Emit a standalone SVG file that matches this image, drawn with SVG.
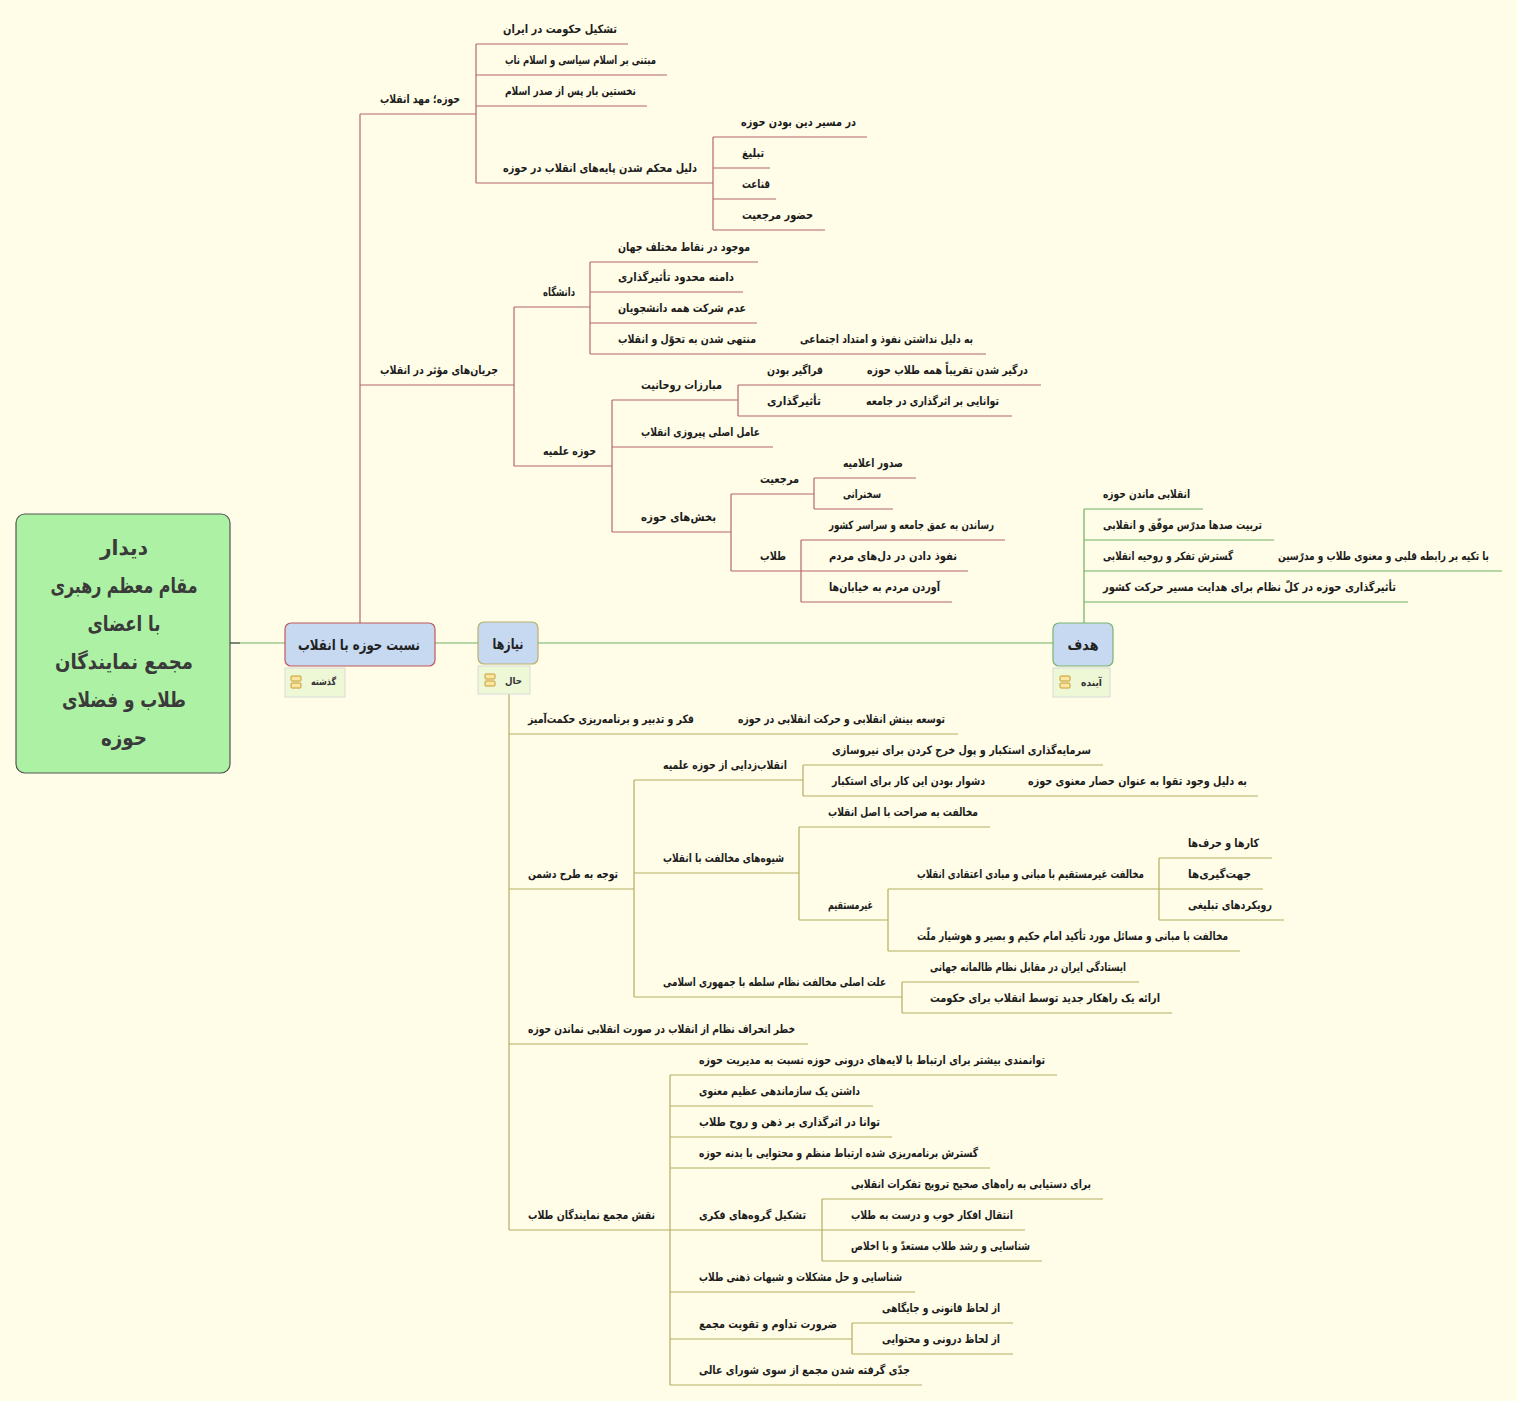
<svg xmlns="http://www.w3.org/2000/svg" width="1517" height="1401" viewBox="0 0 1517 1401">
<style>
.bg{fill:#FFFDE8}
.r{stroke:#B5676B;stroke-width:1.2;fill:none}
.o{stroke:#B5AE62;stroke-width:1.2;fill:none}
.g{stroke:#6DAF63;stroke-width:1.2;fill:none}
text{font-family:"DejaVu Sans","Noto Sans",sans-serif;font-weight:bold;fill:#1C1C1C}
.t{font-size:11.5px;text-anchor:end}
.m{font-size:15px;text-anchor:middle;fill:#222}
.c{font-size:21px;text-anchor:middle;fill:#3A3A3A}
.l{font-size:9.5px;text-anchor:end;fill:#333}
.lb{fill:#EEF7D6;stroke:#DADADA;stroke-width:1}
.ic{fill:#FBE7A1;stroke:#C99A2E;stroke-width:1}
</style>
<rect class="bg" x="0" y="0" width="1517" height="1401"/>
<g id="connectors">
<path class="g" d="M230 643H285M435 643H478M538 643H1053"/>
<path d="M230 643H240" stroke="#555" stroke-width="1.2"/>
<path class="r" d="M360 623V114M476 44V183M713 137V230M514 307V466M590 262V354M612 400V532M738 385V416M731 494V571M814 478V509M801 540V602"/>
<path class="g" d="M1084 623V509"/>
<path class="o" d="M509 694V1230M634 780V997M803 765V796M799 827V920M888 889V951M1159 858V920M902 982V1013M670 1075V1385M822 1199V1261M852 1323V1354"/>
</g>
<g id="central">
<rect x="16" y="514" width="214" height="259" rx="9" fill="#ADF1A4" stroke="#555" stroke-width="1.2"/>
<text class="c" x="124" y="555" textLength="48" lengthAdjust="spacingAndGlyphs">دیدار</text>
<text class="c" x="124" y="593" textLength="147" lengthAdjust="spacingAndGlyphs">مقام معظم رهبری</text>
<text class="c" x="124" y="631" textLength="73" lengthAdjust="spacingAndGlyphs">با اعضای</text>
<text class="c" x="124" y="669" textLength="138" lengthAdjust="spacingAndGlyphs">مجمع نمایندگان</text>
<text class="c" x="124" y="707" textLength="124" lengthAdjust="spacingAndGlyphs">طلاب و فضلای</text>
<text class="c" x="124" y="745" textLength="46" lengthAdjust="spacingAndGlyphs">حوزه</text>
</g>
<g id="topic-past">
<rect x="285" y="623" width="150" height="43" rx="6" fill="#C6D9F1" stroke="#C0585A" stroke-width="1.2"/>
<text class="m" x="359" y="650" textLength="122" lengthAdjust="spacingAndGlyphs">نسبت حوزه با انقلاب</text>
<rect class="lb" x="285" y="668" width="60" height="29"/>
<rect class="ic" x="291" y="676" width="10" height="5" rx="1"/>
<rect class="ic" x="291" y="683" width="10" height="5" rx="1"/>
<text class="l" x="336" y="685" textLength="25" lengthAdjust="spacingAndGlyphs">گذشته</text>
</g>
<g id="topic-present">
<rect x="478" y="622" width="60" height="42" rx="6" fill="#C6D9F1" stroke="#B7B06A" stroke-width="1.2"/>
<text class="m" x="508" y="649" textLength="31" lengthAdjust="spacingAndGlyphs">نیازها</text>
<rect class="lb" x="478" y="666" width="52" height="28"/>
<rect class="ic" x="485" y="674" width="10" height="5" rx="1"/>
<rect class="ic" x="485" y="681" width="10" height="5" rx="1"/>
<text class="l" x="522" y="684" textLength="17" lengthAdjust="spacingAndGlyphs">حال</text>
</g>
<g id="topic-future">
<rect x="1053" y="623" width="60" height="43" rx="6" fill="#C6D9F1" stroke="#7AB36E" stroke-width="1.2"/>
<text class="m" x="1083" y="650" textLength="31" lengthAdjust="spacingAndGlyphs">هدف</text>
<rect class="lb" x="1053" y="668" width="57" height="29"/>
<rect class="ic" x="1060" y="676" width="10" height="5" rx="1"/>
<rect class="ic" x="1060" y="683" width="10" height="5" rx="1"/>
<text class="l" x="1102" y="686" textLength="21" lengthAdjust="spacingAndGlyphs">آینده</text>
</g>
<g id="nA"><path class="r" d="M360 114H476"/><text class="t" x="460" y="103" textLength="80" lengthAdjust="spacingAndGlyphs">حوزه؛ مهد انقلاب</text></g>
<g id="nA1"><path class="r" d="M476 44H628"/><text class="t" x="617" y="33" textLength="114" lengthAdjust="spacingAndGlyphs">تشکیل حکومت در ایران</text></g>
<g id="nA2"><path class="r" d="M476 75H667"/><text class="t" x="656" y="64" textLength="151" lengthAdjust="spacingAndGlyphs">مبتنی بر اسلام سیاسی و اسلام ناب</text></g>
<g id="nA3"><path class="r" d="M476 106H647"/><text class="t" x="636" y="95" textLength="131" lengthAdjust="spacingAndGlyphs">نخستین بار پس از صدر اسلام</text></g>
<g id="nA4"><path class="r" d="M476 183H713"/><text class="t" x="697" y="172" textLength="194" lengthAdjust="spacingAndGlyphs">دلیل محکم شدن پایه‌های انقلاب در حوزه</text></g>
<g id="nA41"><path class="r" d="M713 137H867"/><text class="t" x="856" y="126" textLength="115" lengthAdjust="spacingAndGlyphs">در مسیر دین بودن حوزه</text></g>
<g id="nA42"><path class="r" d="M713 168H770"/><text class="t" x="764" y="157" textLength="22" lengthAdjust="spacingAndGlyphs">تبلیغ</text></g>
<g id="nA43"><path class="r" d="M713 199H776"/><text class="t" x="770" y="188" textLength="28" lengthAdjust="spacingAndGlyphs">قناعت</text></g>
<g id="nA44"><path class="r" d="M713 230H825"/><text class="t" x="813" y="219" textLength="71" lengthAdjust="spacingAndGlyphs">حضور مرجعیت</text></g>
<g id="nB"><path class="r" d="M360 385H514"/><text class="t" x="498" y="374" textLength="118" lengthAdjust="spacingAndGlyphs">جریان‌های مؤثر در انقلاب</text></g>
<g id="nB1"><path class="r" d="M514 307H590"/><text class="t" x="575" y="296" textLength="32" lengthAdjust="spacingAndGlyphs">دانشگاه</text></g>
<g id="nB11"><path class="r" d="M590 262H758"/><text class="t" x="750" y="251" textLength="132" lengthAdjust="spacingAndGlyphs">موجود در نقاط مختلف جهان</text></g>
<g id="nB12"><path class="r" d="M590 292H743"/><text class="t" x="734" y="281" textLength="116" lengthAdjust="spacingAndGlyphs">دامنه محدود تأثیرگذاری</text></g>
<g id="nB13"><path class="r" d="M590 323H757"/><text class="t" x="746" y="312" textLength="128" lengthAdjust="spacingAndGlyphs">عدم شرکت همه دانشجویان</text></g>
<g id="nB14"><path class="r" d="M590 354H786"/><text class="t" x="756" y="343" textLength="138" lengthAdjust="spacingAndGlyphs">منتهی شدن به تحوّل و انقلاب</text></g>
<g id="nB141"><path class="r" d="M786 354H986"/><text class="t" x="973" y="343" textLength="173" lengthAdjust="spacingAndGlyphs">به دلیل نداشتن نفوذ و امتداد اجتماعی</text></g>
<g id="nB2"><path class="r" d="M514 466H612"/><text class="t" x="596" y="455" textLength="53" lengthAdjust="spacingAndGlyphs">حوزه علمیه</text></g>
<g id="nB21"><path class="r" d="M612 400H738"/><text class="t" x="722" y="389" textLength="81" lengthAdjust="spacingAndGlyphs">مبارزات روحانیت</text></g>
<g id="nB211"><path class="r" d="M738 385H848"/><text class="t" x="823" y="374" textLength="56" lengthAdjust="spacingAndGlyphs">فراگیر بودن</text></g>
<g id="nB2111"><path class="r" d="M848 385H1041"/><text class="t" x="1028" y="374" textLength="161" lengthAdjust="spacingAndGlyphs">درگیر شدن تقریباً همه طلاب حوزه</text></g>
<g id="nB212"><path class="r" d="M738 416H848"/><text class="t" x="821" y="405" textLength="54" lengthAdjust="spacingAndGlyphs">تأثیرگذاری</text></g>
<g id="nB2121"><path class="r" d="M848 416H1012"/><text class="t" x="999" y="405" textLength="133" lengthAdjust="spacingAndGlyphs">توانایی بر اثرگذاری در جامعه</text></g>
<g id="nB22"><path class="r" d="M612 447H773"/><text class="t" x="760" y="436" textLength="119" lengthAdjust="spacingAndGlyphs">عامل اصلی پیروزی انقلاب</text></g>
<g id="nB23"><path class="r" d="M612 532H731"/><text class="t" x="716" y="521" textLength="75" lengthAdjust="spacingAndGlyphs">بخش‌های حوزه</text></g>
<g id="nB231"><path class="r" d="M731 494H814"/><text class="t" x="799" y="483" textLength="39" lengthAdjust="spacingAndGlyphs">مرجعیت</text></g>
<g id="nB2311"><path class="r" d="M814 478H916"/><text class="t" x="903" y="467" textLength="60" lengthAdjust="spacingAndGlyphs">صدور اعلامیه</text></g>
<g id="nB2312"><path class="r" d="M814 509H893"/><text class="t" x="881" y="498" textLength="38" lengthAdjust="spacingAndGlyphs">سخنرانی</text></g>
<g id="nB232"><path class="r" d="M731 571H801"/><text class="t" x="786" y="560" textLength="26" lengthAdjust="spacingAndGlyphs">طلاب</text></g>
<g id="nB2321"><path class="r" d="M801 540H1005"/><text class="t" x="994" y="529" textLength="165" lengthAdjust="spacingAndGlyphs">رساندن به عمق جامعه و سراسر کشور</text></g>
<g id="nB2322"><path class="r" d="M801 571H968"/><text class="t" x="957" y="560" textLength="128" lengthAdjust="spacingAndGlyphs">نفوذ دادن در دل‌های مردم</text></g>
<g id="nB2323"><path class="r" d="M801 602H952"/><text class="t" x="940" y="591" textLength="111" lengthAdjust="spacingAndGlyphs">آوردن مردم به خیابان‌ها</text></g>
<g id="nG1"><path class="g" d="M1084 509H1203"/><text class="t" x="1190" y="498" textLength="87" lengthAdjust="spacingAndGlyphs">انقلابی ماندن حوزه</text></g>
<g id="nG2"><path class="g" d="M1084 540H1274"/><text class="t" x="1262" y="529" textLength="159" lengthAdjust="spacingAndGlyphs">تربیت صدها مدرّس موفّق و انقلابی</text></g>
<g id="nG3"><path class="g" d="M1084 571H1255"/><text class="t" x="1233" y="560" textLength="130" lengthAdjust="spacingAndGlyphs">گسترش تفکر و روحیه انقلابی</text></g>
<g id="nG31"><path class="g" d="M1255 571H1502"/><text class="t" x="1489" y="560" textLength="211" lengthAdjust="spacingAndGlyphs">با تکیه بر رابطه قلبی و معنوی طلاب و مدرّسین</text></g>
<g id="nG4"><path class="g" d="M1084 602H1408"/><text class="t" x="1396" y="591" textLength="293" lengthAdjust="spacingAndGlyphs">تأثیرگذاری حوزه در کلّ نظام برای هدایت مسیر حرکت کشور</text></g>
<g id="nC1"><path class="o" d="M509 734H712"/><text class="t" x="694" y="723" textLength="166" lengthAdjust="spacingAndGlyphs">فکر و تدبیر و برنامه‌ریزی حکمت‌آمیز</text></g>
<g id="nC11"><path class="o" d="M712 734H958"/><text class="t" x="945" y="723" textLength="207" lengthAdjust="spacingAndGlyphs">توسعه بینش انقلابی و حرکت انقلابی در حوزه</text></g>
<g id="nC2"><path class="o" d="M509 889H634"/><text class="t" x="618" y="878" textLength="90" lengthAdjust="spacingAndGlyphs">توجه به طرح دشمن</text></g>
<g id="nC21"><path class="o" d="M634 780H803"/><text class="t" x="787" y="769" textLength="124" lengthAdjust="spacingAndGlyphs">انقلاب‌زدایی از حوزه علمیه</text></g>
<g id="nC211"><path class="o" d="M803 765H1103"/><text class="t" x="1091" y="754" textLength="259" lengthAdjust="spacingAndGlyphs">سرمایه‌گذاری استکبار و پول خرج کردن برای نیروسازی</text></g>
<g id="nC212"><path class="o" d="M803 796H1015"/><text class="t" x="985" y="785" textLength="153" lengthAdjust="spacingAndGlyphs">دشوار بودن این کار برای استکبار</text></g>
<g id="nC2121"><path class="o" d="M1015 796H1258"/><text class="t" x="1247" y="785" textLength="219" lengthAdjust="spacingAndGlyphs">به دلیل وجود تقوا به عنوان حصار معنوی حوزه</text></g>
<g id="nC22"><path class="o" d="M634 873H799"/><text class="t" x="784" y="862" textLength="121" lengthAdjust="spacingAndGlyphs">شیوه‌های مخالفت با انقلاب</text></g>
<g id="nC221"><path class="o" d="M799 827H990"/><text class="t" x="978" y="816" textLength="150" lengthAdjust="spacingAndGlyphs">مخالفت به صراحت با اصل انقلاب</text></g>
<g id="nC222"><path class="o" d="M799 920H888"/><text class="t" x="873" y="909" textLength="45" lengthAdjust="spacingAndGlyphs">غیرمستقیم</text></g>
<g id="nC2221"><path class="o" d="M888 889H1159"/><text class="t" x="1144" y="878" textLength="227" lengthAdjust="spacingAndGlyphs">مخالفت غیرمستقیم با مبانی و مبادی اعتقادی انقلاب</text></g>
<g id="nC22211"><path class="o" d="M1159 858H1272"/><text class="t" x="1259" y="847" textLength="71" lengthAdjust="spacingAndGlyphs">کارها و حرف‌ها</text></g>
<g id="nC22212"><path class="o" d="M1159 889H1263"/><text class="t" x="1251" y="878" textLength="63" lengthAdjust="spacingAndGlyphs">جهت‌گیری‌ها</text></g>
<g id="nC22213"><path class="o" d="M1159 920H1284"/><text class="t" x="1272" y="909" textLength="84" lengthAdjust="spacingAndGlyphs">رویکردهای تبلیغی</text></g>
<g id="nC2222"><path class="o" d="M888 951H1240"/><text class="t" x="1228" y="940" textLength="311" lengthAdjust="spacingAndGlyphs">مخالفت با مبانی و مسائل مورد تأکید امام حکیم و بصیر و هوشیار ملّت</text></g>
<g id="nC23"><path class="o" d="M634 997H902"/><text class="t" x="886" y="986" textLength="223" lengthAdjust="spacingAndGlyphs">علت اصلی مخالفت نظام سلطه با جمهوری اسلامی</text></g>
<g id="nC231"><path class="o" d="M902 982H1139"/><text class="t" x="1126" y="971" textLength="196" lengthAdjust="spacingAndGlyphs">ایستادگی ایران در مقابل نظام ظالمانه جهانی</text></g>
<g id="nC232"><path class="o" d="M902 1013H1172"/><text class="t" x="1160" y="1002" textLength="230" lengthAdjust="spacingAndGlyphs">ارائه یک راهکار جدید توسط انقلاب برای حکومت</text></g>
<g id="nC3"><path class="o" d="M509 1044H808"/><text class="t" x="795" y="1033" textLength="267" lengthAdjust="spacingAndGlyphs">خطر انحراف نظام از انقلاب در صورت انقلابی نماندن حوزه</text></g>
<g id="nC4"><path class="o" d="M509 1230H670"/><text class="t" x="655" y="1219" textLength="127" lengthAdjust="spacingAndGlyphs">نقش مجمع نمایندگان طلاب</text></g>
<g id="nC41"><path class="o" d="M670 1075H1057"/><text class="t" x="1045" y="1064" textLength="346" lengthAdjust="spacingAndGlyphs">توانمندی بیشتر برای ارتباط با لایه‌های درونی حوزه نسبت به مدیریت حوزه</text></g>
<g id="nC42"><path class="o" d="M670 1106H873"/><text class="t" x="860" y="1095" textLength="161" lengthAdjust="spacingAndGlyphs">داشتن یک سازماندهی عظیم معنوی</text></g>
<g id="nC43"><path class="o" d="M670 1137H892"/><text class="t" x="880" y="1126" textLength="181" lengthAdjust="spacingAndGlyphs">توانا در اثرگذاری بر ذهن و روح طلاب</text></g>
<g id="nC44"><path class="o" d="M670 1168H990"/><text class="t" x="978" y="1157" textLength="279" lengthAdjust="spacingAndGlyphs">گسترش برنامه‌ریزی شده ارتباط منظم و محتوایی با بدنه حوزه</text></g>
<g id="nC45"><path class="o" d="M670 1230H822"/><text class="t" x="806" y="1219" textLength="107" lengthAdjust="spacingAndGlyphs">تشکیل گروه‌های فکری</text></g>
<g id="nC451"><path class="o" d="M822 1199H1103"/><text class="t" x="1091" y="1188" textLength="240" lengthAdjust="spacingAndGlyphs">برای دستیابی به راه‌های صحیح ترویج تفکرات انقلابی</text></g>
<g id="nC452"><path class="o" d="M822 1230H1025"/><text class="t" x="1013" y="1219" textLength="162" lengthAdjust="spacingAndGlyphs">انتقال افکار خوب و درست به طلاب</text></g>
<g id="nC453"><path class="o" d="M822 1261H1042"/><text class="t" x="1030" y="1250" textLength="179" lengthAdjust="spacingAndGlyphs">شناسایی و رشد طلاب مستعدّ و با اخلاص</text></g>
<g id="nC46"><path class="o" d="M670 1292H915"/><text class="t" x="902" y="1281" textLength="203" lengthAdjust="spacingAndGlyphs">شناسایی و حل مشکلات و شبهات ذهنی طلاب</text></g>
<g id="nC47"><path class="o" d="M670 1339H852"/><text class="t" x="837" y="1328" textLength="138" lengthAdjust="spacingAndGlyphs">ضرورت تداوم و تقویت مجمع</text></g>
<g id="nC471"><path class="o" d="M852 1323H1013"/><text class="t" x="1000" y="1312" textLength="118" lengthAdjust="spacingAndGlyphs">از لحاظ قانونی و جایگاهی</text></g>
<g id="nC472"><path class="o" d="M852 1354H1013"/><text class="t" x="1000" y="1343" textLength="118" lengthAdjust="spacingAndGlyphs">از لحاظ درونی و محتوایی</text></g>
<g id="nC48"><path class="o" d="M670 1385H922"/><text class="t" x="910" y="1374" textLength="211" lengthAdjust="spacingAndGlyphs">جدّی گرفته شدن مجمع از سوی شورای عالی</text></g>
</svg>
